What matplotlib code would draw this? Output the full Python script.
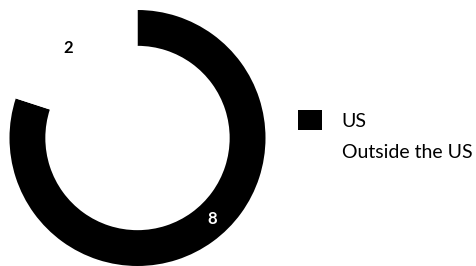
import numpy as np
import matplotlib.pyplot as plt

labels = ["US", "Outside the US"]
values = [8, 2]
colors = ["#000000", "#ffffff"]

plt.rcParams['font.family'] = ['Lato', 'DejaVu Sans']

fig = plt.figure(figsize=(4.77, 2.66), dpi=100)
ax = fig.add_axes([9.5 / 477, 0, 256 / 477, 256 / 266])

total = sum(values)
wedges, texts, autotexts = ax.pie(
    values, colors=colors, startangle=90, counterclock=False,
    wedgeprops=dict(width=0.28, linewidth=0),
    autopct=lambda p: f"{p * total / 100:.0f}", pctdistance=0.87,
    textprops=dict(fontsize=12, fontweight="bold"))
autotexts[0].set_color("white")
autotexts[1].set_color("black")
# label positions (angle in degrees, radius) as placed in the original
for t, ang, r in zip(autotexts, [-47.5, 127.5], [0.86, 0.89]):
    t.set_position((r * np.cos(np.radians(ang)), r * np.sin(np.radians(ang))))
ax.set_xlim(-1, 1)
ax.set_ylim(-1, 1)
ax.set_aspect("equal")

fig.legend(wedges, labels, loc="center left", bbox_to_anchor=(298 / 477, 0.49),
           frameon=False, fontsize=14, handlelength=1.24, handleheight=1.24,
           handletextpad=1.0, labelspacing=0.55, borderpad=0, borderaxespad=0)

fig.savefig("out.png", dpi=100)
